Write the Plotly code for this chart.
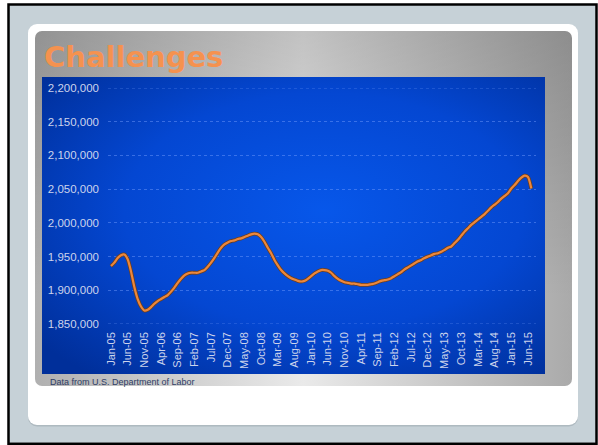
import base64
import pandas as pd
import plotly.graph_objects as go

# Monthly values (thousands), Jan-05 .. Jul-15
values_k = [
    1936, 1941, 1948, 1952, 1953, 1946, 1928, 1905, 1887, 1876,
    1870, 1871, 1875, 1880, 1884, 1887, 1890, 1893, 1898, 1904,
    1911, 1917, 1922, 1925, 1926, 1926, 1926, 1928, 1930, 1935,
    1941, 1948, 1956, 1963, 1968, 1971, 1973, 1974, 1976, 1977,
    1979, 1981, 1983, 1984, 1983, 1979, 1972, 1963, 1955, 1945,
    1937, 1930, 1925, 1921, 1918, 1916, 1914, 1913, 1914, 1917,
    1921, 1925, 1928, 1930, 1930, 1929, 1926, 1921, 1917, 1914,
    1912, 1911, 1910, 1910, 1909, 1908, 1908, 1908, 1909, 1910,
    1912, 1914, 1915, 1916, 1918, 1921, 1924, 1927, 1931, 1934,
    1937, 1940, 1943, 1945, 1948, 1950, 1952, 1954, 1955, 1957,
    1960, 1963, 1965, 1970, 1975, 1981, 1987, 1992, 1997, 2001,
    2005, 2009, 2013, 2018, 2023, 2027, 2031, 2036, 2040, 2044,
    2051, 2056, 2062, 2067, 2070, 2068, 2051,
]
values = [v * 1000 for v in values_k]
months = list(pd.date_range("2005-01-01", periods=len(values), freq="MS").strftime("%b-%y"))
tick_labels = months[::5]
y_min, y_max, y_step = 1850000, 2200000, 50000

title_text = "Challenges"
source_text = "Data from U.S. Department of Labor"

W, H = 598, 445

svg = f"""<svg xmlns="http://www.w3.org/2000/svg" width="{W}" height="{H}" viewBox="0 0 {W} {H}">
<defs>
<linearGradient id="gh" x1="0" y1="0" x2="1" y2="0">
<stop offset="0" stop-color="#B0B0B0"/><stop offset="0.5" stop-color="#EAEAEA"/><stop offset="1" stop-color="#AAAAAA"/>
</linearGradient>
<linearGradient id="gv" x1="0" y1="0" x2="0" y2="1">
<stop offset="0" stop-color="#000000" stop-opacity="0.17"/><stop offset="0.75" stop-color="#000000" stop-opacity="0"/>
</linearGradient>
<radialGradient id="gb" cx="0.56" cy="0.45" r="0.72">
<stop offset="0" stop-color="#0757EA"/><stop offset="0.55" stop-color="#0447D2"/><stop offset="1" stop-color="#002F9A"/>
</radialGradient>
</defs>
<rect x="0" y="0" width="{W}" height="{H}" fill="#FFFFFF"/>
<rect x="8.5" y="4.5" width="588" height="439.3" fill="#C6D1D7" stroke="#000000" stroke-width="2.5"/>
<rect x="28" y="25.5" width="550" height="401" rx="9" fill="#9FAAB0" opacity="0.6"/>
<rect x="28" y="24" width="550" height="401" rx="9" fill="#FFFFFF"/>
<rect x="35" y="31" width="537" height="355" rx="7" fill="url(#gh)"/>
<rect x="35" y="31" width="537" height="355" rx="7" fill="url(#gv)"/>
<rect x="42" y="77" width="503" height="297" fill="url(#gb)"/>
</svg>"""
bg_uri = "data:image/svg+xml;base64," + base64.b64encode(svg.encode()).decode()

fig = go.Figure()
fig.add_trace(go.Scatter(
    x=months, y=values, mode="lines",
    line=dict(color="#6E3F1E", width=3.8, shape="spline", smoothing=0.6),
    hoverinfo="skip", showlegend=False,
))
fig.add_trace(go.Scatter(
    x=months, y=values, mode="lines",
    line=dict(color="#EC873C", width=2.2, shape="spline", smoothing=0.6),
    showlegend=False,
))

lbl_font = dict(family="Liberation Sans, Arial, sans-serif", color="#CDD4EC")
grid_col = "rgba(120,160,255,0.45)"

# dotted lines at the range edges (plotly omits edge gridlines)
for yv in (y_min, y_max):
    fig.add_shape(type="line", xref="x domain", yref="y", x0=0, x1=1, y0=yv, y1=yv,
                  line=dict(color=grid_col, width=1, dash="dot"), layer="below")

fig.update_layout(
    width=W, height=H,
    margin=dict(l=0, r=0, t=0, b=0, autoexpand=False),
    paper_bgcolor="#FFFFFF",
    plot_bgcolor="rgba(0,0,0,0)",
    images=[dict(source=bg_uri, xref="paper", yref="paper", x=0, y=1,
                 sizex=1, sizey=1, xanchor="left", yanchor="top",
                 sizing="stretch", layer="below")],
    xaxis=dict(
        type="category", automargin=False,
        domain=[108 / W, 536 / W],
        range=[-0.9, 127.4],
        tickmode="array", tickvals=tick_labels, ticktext=tick_labels,
        tickangle=-90,
        tickfont=dict(size=11, **lbl_font),
        ticks="", showgrid=False, zeroline=False, showline=False,
        ticklabelstandoff=5,
    ),
    yaxis=dict(
        automargin=False,
        domain=[(H - 324) / H, (H - 88) / H],
        range=[y_min, y_max],
        dtick=y_step, tickformat=",d",
        tickfont=dict(size=11.5, **lbl_font),
        ticks="", showline=False, zeroline=False,
        showgrid=True, gridcolor=grid_col, gridwidth=1, griddash="dot",
        ticklabelstandoff=8,
    ),
    annotations=[
        dict(text=f"<b>{title_text}</b>", xref="paper", yref="paper",
             x=42 / W, y=(H - 57) / H, xanchor="left", yanchor="middle",
             showarrow=False,
             font=dict(family="DejaVu Sans, sans-serif", size=29, color="#F5924F")),
        dict(text=source_text, xref="paper", yref="paper",
             x=48 / W, y=(H - 381.5) / H, xanchor="left", yanchor="middle",
             showarrow=False,
             font=dict(family="Liberation Sans, Arial, sans-serif", size=9, color="#2E3D66")),
    ],
)

fig.write_html("out.html")
